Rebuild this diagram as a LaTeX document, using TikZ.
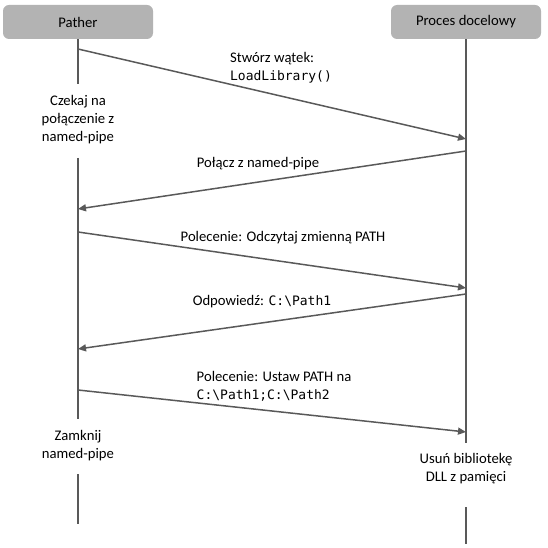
\documentclass[tikz,border=0pt]{standalone}
\usepackage{fontspec}
\setmainfont{Carlito}
\setmonofont{DejaVu Sans Mono}
\usetikzlibrary{arrows.meta}
\definecolor{linegray}{HTML}{595959}
\definecolor{boxgray}{HTML}{B3B3B3}
\newcommand{\txtsize}{\fontsize{14.67}{18}\selectfont}
\newcommand{\code}[1]{{\ttfamily\fontsize{13}{18}\selectfont #1}}
\begin{document}
\begin{tikzpicture}[x=1pt, y=-1pt,
  actor/.style={fill=boxgray, rounded corners=6pt, minimum width=150pt, minimum height=34pt, inner sep=0pt, font=\txtsize},
  note/.style={align=center, inner sep=0pt, font=\txtsize},
  lbl/.style={align=left, inner sep=0pt, font=\txtsize},
  life/.style={draw=linegray, line width=1.8pt},
  msg/.style={draw=linegray, line width=1.5pt, -{Triangle[length=8pt,width=7pt]}}]
\useasboundingbox (0,0) rectangle (548,548);
\node [actor] (pather) at (78,22) {Pather};
\node [actor] (proces) at (466,22) {Proces docelowy};
% lifelines
\coordinate (pa1) at (78,84);
\coordinate (pa2) at (78,158);
\coordinate (pa3) at (78,419);
\coordinate (pa4) at (78,474);
\coordinate (pa5) at (78,524);
\coordinate (pr1) at (466,443);
\coordinate (pr2) at (466,507);
\coordinate (pr3) at (466,544);
\draw [life] (pather.south) -- (pa1);
\draw [life] (pa2) -- (pa3);
\draw [life] (pa4) -- (pa5);
\draw [life] (proces.south) -- (pr1);
\draw [life] (pr2) -- (pr3);
\node (czekaj) at (78,120) [note] {Czekaj na\\połączenie z\\named-pipe};
\node (zamknij) at (78,446) [note] {Zamknij\\named-pipe};
\node (usun) at (466,469) [note] {Usuń bibliotekę\\DLL z pamięci};
% messages
\coordinate (s1) at (78,49);   \coordinate (e1) at (466,139);
\coordinate (s2) at (466,151); \coordinate (e2) at (78,209);
\coordinate (s3) at (78,232);  \coordinate (e3) at (466,288);
\coordinate (s4) at (466,294); \coordinate (e4) at (78,349);
\coordinate (s5) at (78,390);  \coordinate (e5) at (466,432);
\draw [msg] (s1) -- (e1);
\draw [msg] (s2) -- (e2);
\draw [msg] (s3) -- (e3);
\draw [msg] (s4) -- (e4);
\draw [msg] (s5) -- (e5);
\node (stworz) at (281,68) [lbl] {Stwórz wątek:\\\code{LoadLibrary()}};
\node (polacz) at (258,164) [lbl] {Połącz z named-pipe};
\node (odczytaj) at (283,238) [lbl] {Polecenie: Odczytaj zmienną PATH};
\node (odpowiedz) at (262,302) [lbl] {Odpowiedź: \code{C:\textbackslash Path1}};
\node (ustaw) at (274,386) [lbl] {Polecenie: Ustaw PATH na\\\code{C:\textbackslash Path1;C:\textbackslash Path2}};
\end{tikzpicture}
\end{document}
